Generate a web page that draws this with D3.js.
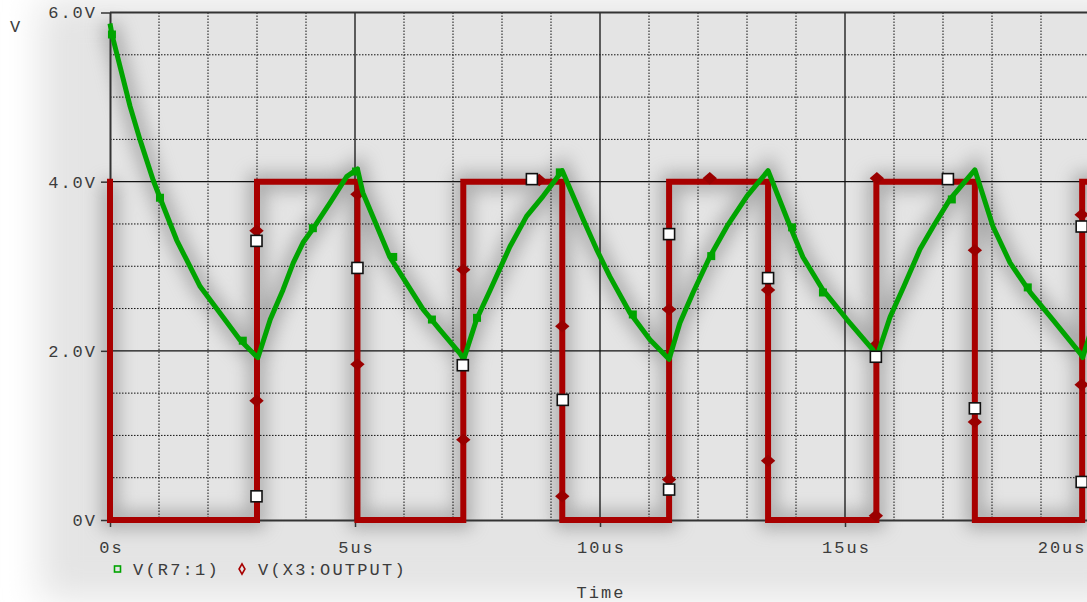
<!DOCTYPE html>
<html>
<head>
<meta charset="utf-8">
<script src="https://cdn.jsdelivr.net/npm/d3@7"></script>
<style>
  html, body { margin: 0; padding: 0; background: #ffffff; }
  svg { display: block; }
  text { font-family: "Liberation Mono", "DejaVu Sans Mono", monospace; fill: #3c3c3c; }
</style>
</head>
<body>
<script>
// ---------------- data ----------------
const xTicks = [0, 5, 10, 15, 20];
const xTickLabels = ["0s", "5us", "10us", "15us", "20us"];
const yTicks = [0, 2, 4, 6];
const yTickLabels = ["0V", "2.0V", "4.0V", "6.0V"];
const seriesNames = ["V(R7:1)", "V(X3:OUTPUT)"];

// V(R7:1) – time (us) and voltage (V)
const greenT = [0, 0.04, 0.41, 0.61, 0.88, 1.02, 1.36, 1.56, 1.84, 2.24, 2.65, 2.96, 3.02,
  3.27, 3.53, 3.74, 3.94, 4.15, 4.49, 4.83, 5.05,
  5.16, 5.45, 5.71, 6.05, 6.39, 6.73, 7.14, 7.22,
  7.48, 7.76, 8.16, 8.5, 8.84, 9.23,
  9.66, 9.93, 10.2, 10.61, 11.02, 11.41,
  11.63, 11.9, 12.24, 12.59, 13.0, 13.43,
  13.88, 14.14, 14.55, 15.04, 15.57, 15.65,
  15.92, 16.2, 16.53, 16.8, 17.14, 17.65,
  18.02, 18.37, 18.78, 19.24, 19.8, 19.85, 20.0];
const greenV = [5.87, 5.74, 4.89, 4.5, 4.02, 3.81, 3.31, 3.08, 2.76, 2.45, 2.13, 1.95, 1.92,
  2.37, 2.72, 3.04, 3.28, 3.45, 3.75, 4.06, 4.15,
  3.87, 3.47, 3.11, 2.8, 2.49, 2.25, 1.97, 1.9,
  2.37, 2.72, 3.23, 3.59, 3.83, 4.13,
  3.55, 3.2, 2.88, 2.45, 2.13, 1.9,
  2.33, 2.69, 3.11, 3.47, 3.83, 4.13,
  3.47, 3.11, 2.72, 2.37, 2.01, 1.93,
  2.4, 2.76, 3.2, 3.47, 3.79, 4.14,
  3.47, 3.04, 2.69, 2.37, 1.97, 1.92, 2.2];

// V(X3:OUTPUT) – square wave
const redT = [0, 0, 3.0, 3.0, 5.05, 5.05, 7.21, 7.21, 9.23, 9.23, 11.41, 11.41, 13.43, 13.43,
  15.64, 15.64, 17.65, 17.65, 19.84, 19.84, 20.5];
const redV = [4, 0, 0, 4, 4, 0, 0, 4, 4, 0, 0, 4, 4, 0, 0, 4, 4, 0, 0, 4, 4];

// small trace markers
const greenMarkT = [0.04, 1.02, 2.71, 4.14, 5.02, 5.78, 6.57, 7.49, 9.18, 10.67, 12.27, 13.92, 14.55, 17.18, 18.73];
const greenMarkV = [5.74, 3.81, 2.12, 3.45, 4.12, 3.11, 2.37, 2.39, 4.11, 2.43, 3.12, 3.46, 2.69, 3.79, 2.75];
const redMarkT = [2.99, 2.99, 5.05, 5.05, 7.21, 7.21, 8.76, 9.23, 9.23, 11.41, 11.41, 12.24, 13.43, 13.43,
  15.63, 15.63, 15.65, 17.65, 17.65, 19.83, 19.83];
const redMarkV = [3.42, 1.41, 3.85, 1.84, 2.96, 0.95, 4.02, 2.29, 0.28, 2.49, 0.48, 4.04, 2.72, 0.70,
  2.07, 0.05, 4.04, 3.19, 1.16, 3.61, 1.60];

// white square symbols
const boxT = [2.99, 2.99, 5.05, 7.2, 8.61, 9.24, 11.41, 11.41, 13.43, 15.63, 17.1, 17.65, 19.83, 19.83];
const boxV = [3.30, 0.28, 2.98, 1.83, 4.03, 1.42, 3.38, 0.36, 2.86, 1.93, 4.03, 1.32, 3.47, 0.45];

// ---------------- chart ----------------
const W = 1087, H = 602;
const RED = "#a80000", GREEN = "#00a400";
const x = d3.scaleLinear().domain([0, 20]).range([110, 1090]);
const y = d3.scaleLinear().domain([0, 6]).range([520, 12.5]);

const svg = d3.select("body").append("svg").attr("width", W).attr("height", H);
const defs = svg.append("defs");
defs.append("filter").attr("id", "halo").attr("filterUnits", "userSpaceOnUse")
  .attr("x", -50).attr("y", -50).attr("width", W + 100).attr("height", H + 100)
  .append("feGaussianBlur").attr("stdDeviation", 18);
defs.append("filter").attr("id", "shadow").attr("filterUnits", "userSpaceOnUse")
  .attr("x", -50).attr("y", -50).attr("width", W + 100).attr("height", H + 100)
  .append("feGaussianBlur").attr("stdDeviation", 9);
defs.append("clipPath").attr("id", "plotclip").append("rect")
  .attr("x", x(0) - 4).attr("y", y(6) - 30).attr("width", W).attr("height", y(0) - y(6) + 40);

// soft halo around the plot
svg.append("rect").attr("x", 40).attr("y", 0).attr("width", W).attr("height", 600)
  .attr("fill", "#e4e4e4").attr("filter", "url(#halo)");
svg.append("rect").attr("x", x(0)).attr("y", y(6)).attr("width", W - x(0)).attr("height", y(0) - y(6))
  .attr("fill", "#e4e4e4");

const line = d3.line().x(d => x(d[0])).y(d => y(d[1]));
const greenPts = greenT.map((t, i) => [t, greenV[i]]);
const redPts = redT.map((t, i) => [t, redV[i]]);

// shadows of the traces
const sh = svg.append("g").attr("filter", "url(#shadow)").attr("opacity", 0.65);
sh.append("path").attr("d", line(redPts)).attr("fill", "none").attr("stroke", "#858585").attr("stroke-width", 16);
sh.append("path").attr("d", line(greenPts)).attr("fill", "none").attr("stroke", "#858585").attr("stroke-width", 16);

// grid
const grid = svg.append("g");
const minorX = d3.range(1, 21).filter(v => v % 5 !== 0);
const minorY = d3.range(0.5, 6, 0.5).filter(v => v % 2 !== 0);
grid.selectAll("line.mx").data(minorX).join("line")
  .attr("x1", d => x(d)).attr("x2", d => x(d)).attr("y1", y(6)).attr("y2", y(0))
  .attr("stroke", "#111").attr("stroke-width", 1).attr("stroke-dasharray", "1.5,1.5");
grid.selectAll("line.my").data(minorY).join("line")
  .attr("x1", x(0)).attr("x2", W).attr("y1", d => y(d)).attr("y2", d => y(d))
  .attr("stroke", "#111").attr("stroke-width", 1).attr("stroke-dasharray", "1.5,1.5");
grid.selectAll("line.MX").data([5, 10, 15]).join("line")
  .attr("x1", d => x(d)).attr("x2", d => x(d)).attr("y1", y(6)).attr("y2", y(0))
  .attr("stroke", "#111").attr("stroke-width", 1.3);
grid.selectAll("line.MY").data([2, 4]).join("line")
  .attr("x1", x(0)).attr("x2", W).attr("y1", d => y(d)).attr("y2", d => y(d))
  .attr("stroke", "#111").attr("stroke-width", 1.3);

// axes
const xAxis = svg.append("g").attr("transform", `translate(0,${y(0)})`)
  .call(d3.axisBottom(x).tickValues(xTicks).tickFormat((d, i) => xTickLabels[i]).tickSize(7).tickSizeOuter(0).tickPadding(14));
xAxis.select(".domain").attr("stroke", "#333").attr("stroke-width", 2);
xAxis.selectAll(".tick line").attr("stroke", "#333").attr("stroke-width", 1.5);
xAxis.selectAll(".tick text").attr("font-size", 17).attr("letter-spacing", 2).attr("fill", "#3c3c3c")
  .attr("font-family", "Liberation Mono, monospace").attr("dx", 1)
  .filter((d, i) => i === xTicks.length - 1).attr("text-anchor", "end").attr("dx", -4);

const yAxis = svg.append("g").attr("transform", `translate(${x(0)},0)`)
  .call(d3.axisLeft(y).tickValues(yTicks).tickFormat((d, i) => yTickLabels[i]).tickSize(9).tickSizeOuter(0).tickPadding(4));
yAxis.select(".domain").attr("stroke", "#333").attr("stroke-width", 2);
yAxis.selectAll(".tick line").attr("stroke", "#333").attr("stroke-width", 1.5);
yAxis.selectAll(".tick text").attr("font-size", 17).attr("letter-spacing", 2).attr("fill", "#3c3c3c")
  .attr("font-family", "Liberation Mono, monospace");

// top border
svg.append("line").attr("x1", x(0)).attr("x2", W).attr("y1", y(6)).attr("y2", y(6))
  .attr("stroke", "#333").attr("stroke-width", 2);

// traces
const traces = svg.append("g").attr("clip-path", "url(#plotclip)");
traces.append("path").attr("d", line(redPts)).attr("fill", "none").attr("stroke", RED)
  .attr("stroke-width", 6).attr("stroke-linejoin", "miter").attr("stroke-linecap", "square");
traces.selectAll("path.rm").data(redMarkT.map((t, i) => [t, redMarkV[i]])).join("path")
  .attr("d", d3.symbol(d3.symbolDiamond, 70)).attr("transform", d => `translate(${x(d[0])},${y(d[1])}) scale(1.6,0.8)`)
  .attr("fill", "#9a0000");
traces.append("path").attr("d", line(greenPts)).attr("fill", "none").attr("stroke", GREEN)
  .attr("stroke-width", 5).attr("stroke-linejoin", "round");
traces.selectAll("rect.gm").data(greenMarkT.map((t, i) => [t, greenMarkV[i]])).join("rect")
  .attr("x", d => x(d[0]) - 4).attr("y", d => y(d[1]) - 4).attr("width", 8).attr("height", 8).attr("fill", GREEN);
traces.selectAll("rect.box").data(boxT.map((t, i) => [t, boxV[i]])).join("rect")
  .attr("x", d => x(d[0]) - 5.5).attr("y", d => y(d[1]) - 5.5).attr("width", 11).attr("height", 11)
  .attr("fill", "#ffffff").attr("stroke", "#111").attr("stroke-width", 1.6);

// axis titles
svg.append("text").attr("x", 15).attr("y", 32).attr("text-anchor", "middle").attr("font-size", 17).text("V");
svg.append("text").attr("x", 601).attr("y", 598).attr("text-anchor", "middle").attr("font-size", 17)
  .attr("letter-spacing", 2).text("Time");

// legend
const leg = svg.append("g");
leg.append("rect").attr("x", 114.5).attr("y", 566).attr("width", 6).attr("height", 6)
  .attr("fill", "none").attr("stroke", GREEN).attr("stroke-width", 1.6);
leg.append("text").attr("x", 133).attr("y", 575).attr("font-size", 17).attr("letter-spacing", 2.2).text(seriesNames[0]);
leg.append("path").attr("d", d3.symbol(d3.symbolDiamond, 30)).attr("transform", "translate(242,569)")
  .attr("fill", "none").attr("stroke", RED).attr("stroke-width", 1.6);
leg.append("text").attr("x", 258).attr("y", 575).attr("font-size", 17).attr("letter-spacing", 2.2).text(seriesNames[1]);
</script>
</body>
</html>
